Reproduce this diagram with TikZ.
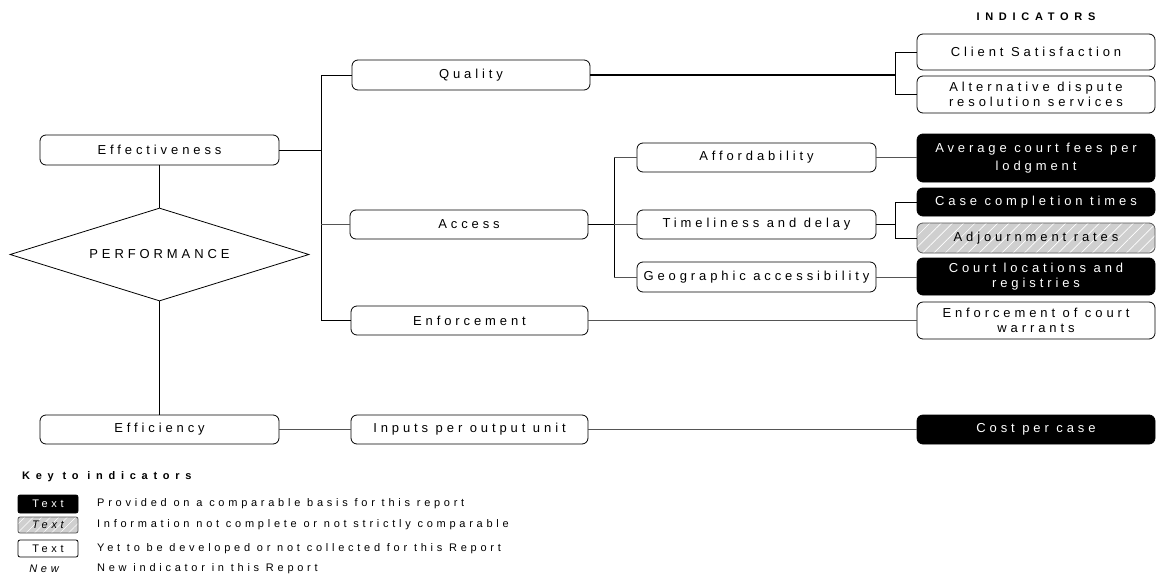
\documentclass[tikz,border=0pt]{standalone}
\usepackage{fontspec}
\setmainfont{Liberation Sans}
\newfontfamily\labfont[LetterSpace=30]{Liberation Sans}
\newfontfamily\keyfont[LetterSpace=34]{Liberation Sans}
\newfontfamily\headfont[LetterSpace=52]{Liberation Sans}
\usetikzlibrary{shapes.geometric,patterns.meta}
\definecolor{hatchgray}{HTML}{CFCFCF}
\definecolor{linegray}{HTML}{555555}
\tikzset{
  box/.style={draw=black, line width=0.8pt, rounded corners=6pt, align=center,
    inner sep=0pt, font=\labfont\fontsize{13}{15.5}\selectfont},
  blackbox/.style={box, fill=black, text=white},
  hatchbox/.style={box, draw=linegray, preaction={fill=hatchgray},
    pattern={Lines[angle=45,distance=8pt,line width=0.7pt]}, pattern color=white},
  keybox/.style={draw=black, line width=0.8pt, rounded corners=2pt, inner sep=0pt,
    minimum width=60pt, font=\keyfont\fontsize{11}{13}\selectfont},
  conn/.style={draw=black, line width=0.8pt},
  thickconn/.style={draw=black, line width=1.4pt},
  grayconn/.style={draw=linegray, line width=0.8pt},
  keytext/.style={anchor=west, inner sep=0pt, font=\keyfont\fontsize{11}{13}\selectfont},
  headtext/.style={inner sep=0pt, font=\bfseries\headfont\fontsize{11}{13}\selectfont},
}
\begin{document}
\begin{tikzpicture}[x=1pt,y=-1pt]
\useasboundingbox (0,0) rectangle (1157,576);
% heading
\node[headtext] (head) at (1036,17) {INDICATORS};
% left column
\node[box, minimum width=239pt, minimum height=30pt] (eff) at (159.5,150) {Effectiveness};
\node[draw=black, line width=0.8pt, shape=diamond, aspect=3.215, inner sep=0pt, minimum width=299pt,
  minimum height=93pt, font=\labfont\fontsize{13}{15}\selectfont] (perf) at (159.5,254.5) {PERFORMANCE};
\node[box, minimum width=239pt, minimum height=29pt] (effy) at (159.5,429.5) {Efficiency};
% middle column
\node[box, minimum width=238pt, minimum height=30pt] (quality) at (471,75) {Quality};
\node[box, minimum width=238pt, minimum height=29pt] (access) at (469,224.5) {Access};
\node[box, minimum width=237pt, minimum height=29pt] (enforce) at (469.5,320.5) {Enforcement};
\node[box, minimum width=237pt, minimum height=29pt] (inputs) at (469.5,429.5) {Inputs per output unit};
% sub column
\node[box, minimum width=239pt, minimum height=29pt] (afford) at (756.5,157.5) {Affordability};
\node[box, minimum width=239pt, minimum height=29pt] (timely) at (756.5,224.5) {Timeliness and delay};
\node[box, minimum width=239pt, minimum height=30pt] (geo) at (756.5,277) {Geographic accessibility};
% indicators
\node[box, minimum width=238pt, minimum height=36pt] (client) at (1036,52) {Client Satisfaction};
\node[box, minimum width=238pt, minimum height=37pt] (adrs) at (1036,94.5) {Alternative dispute\\resolution services};
\node[blackbox, minimum width=238pt, minimum height=48pt, font=\labfont\fontsize{13}{18}\selectfont] (avg) at (1036,158) {Average court fees per\\lodgment};
\node[blackbox, minimum width=238pt, minimum height=28pt] (case) at (1036,202) {Case completion times};
\node[hatchbox, minimum width=238pt, minimum height=30pt] (adj) at (1036,238) {Adjournment rates};
\node[blackbox, minimum width=238pt, minimum height=37pt] (court) at (1036,276.5) {Court locations and\\registries};
\node[box, minimum width=238pt, minimum height=37pt] (warrants) at (1036,320.5) {Enforcement of court\\warrants};
\node[blackbox, minimum width=238pt, minimum height=29pt] (cost) at (1036,429.5) {Cost per case};
% branch coordinates
\coordinate (tr) at (321,75);
\coordinate (b1) at (895,75);
\coordinate (b2) at (614,224.5);
\coordinate (b3) at (895,224.5);
% connectors
\draw[conn] (eff.south) -- (perf.north);
\draw[conn] (perf.south) -- (effy.north);
\draw[conn] (quality.west) -- (tr) -- (enforce.west -| tr) -- (enforce.west);
\draw[conn] (eff.east) -- (eff.east -| tr);
\draw[grayconn] (access.west -| tr) -- (access.west);
\draw[thickconn] (quality.east) -- (b1);
\draw[conn] (client.west) -- (client.west -| b1) -- (adrs.west -| b1) -- (adrs.west);
\draw[thickconn] (access.east) -- (b2);
\draw[conn] (afford.west -| b2) -- (geo.west -| b2);
\draw[grayconn] (afford.west -| b2) -- (afford.west);
\draw[grayconn] (timely.west -| b2) -- (timely.west);
\draw[grayconn] (geo.west -| b2) -- (geo.west);
\draw[grayconn] (afford.east) -- (avg.west |- afford.east);
\draw[thickconn] (timely.east) -- (b3);
\draw[conn] (case.west) -- (case.west -| b3) -- (adj.west -| b3) -- (adj.west);
\draw[grayconn] (geo.east) -- (court.west |- geo.east);
\draw[grayconn] (enforce.east) -- (warrants.west);
\draw[grayconn] (effy.east) -- (inputs.west);
\draw[grayconn] (inputs.east) -- (cost.west);
% key
\node[headtext, anchor=west] (keyhead) at (22,477) {Key to indicators};
\node[keybox, fill=black, text=white, minimum height=18pt] (k1) at (48,504) {Text};
\node[keybox, draw=linegray, preaction={fill=hatchgray},
  pattern={Lines[angle=45,distance=6pt,line width=0.6pt]}, pattern color=white,
  minimum height=16pt, font=\itshape\keyfont\fontsize{11}{13}\selectfont] (k2) at (48,525) {Text};
\node[keybox, minimum height=17pt] (k3) at (48,548.5) {Text};
\node[inner sep=0pt, font=\itshape\keyfont\fontsize{11}{13}\selectfont] (k4) at (44,569) {New};
\node[keytext] (d1) at (97,504) {Provided on a comparable basis for this report};
\node[keytext] (d2) at (97,525) {Information not complete or not strictly comparable};
\node[keytext] (d3) at (97,548.5) {Yet to be developed or not collected for this Report};
\node[keytext] (d4) at (97,569) {New indicator in this Report};
\end{tikzpicture}
\end{document}
